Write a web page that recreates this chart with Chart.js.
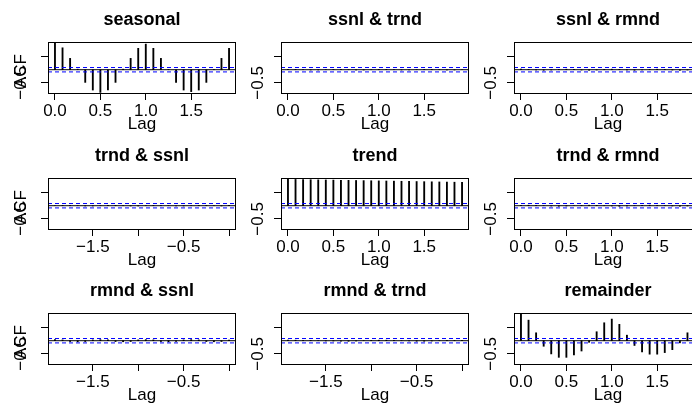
<!DOCTYPE html>
<html>
<head>
<meta charset="utf-8">
<script src="https://cdn.jsdelivr.net/npm/chart.js@4.4.1/dist/chart.umd.min.js"></script>
<style>
    html, body { margin: 0; padding: 0; background: #fff; overflow: hidden; }
    #wrap { position: relative; width: 692px; height: 407px; overflow: hidden; background: #fff; }
    #wrap canvas { position: absolute; }
</style>
</head>
<body>
<div id="wrap"></div>
<script>
/* lags (years) */
const lagsPos = [0, 0.0833, 0.1667, 0.25, 0.3333, 0.4167, 0.5, 0.5833, 0.6667, 0.75, 0.8333, 0.9167,
                 1, 1.0833, 1.1667, 1.25, 1.3333, 1.4167, 1.5, 1.5833, 1.6667, 1.75, 1.8333, 1.9167];
const lagsNeg = [-1.9167, -1.8333, -1.75, -1.6667, -1.5833, -1.5, -1.4167, -1.3333, -1.25, -1.1667, -1.0833, -1,
                 -0.9167, -0.8333, -0.75, -0.6667, -0.5833, -0.5, -0.4167, -0.3333, -0.25, -0.1667, -0.0833, 0];

/* acf / ccf values */
const seasonalAcf  = [1.00, 0.83, 0.43, 0.02, -0.48, -0.77, -0.86, -0.77, -0.48, 0.02, 0.43, 0.81,
                      0.97, 0.81, 0.43, 0.01, -0.48, -0.77, -0.83, -0.77, -0.48, 0.01, 0.43, 0.81];
const ssnlTrnd     = [0.01, 0.01, 0.00, -0.01, -0.01, 0.00, 0.01, 0.01, 0.00, -0.01, -0.01, 0.00,
                      0.01, 0.01, 0.00, -0.01, -0.01, 0.00, 0.01, 0.01, 0.00, -0.01, -0.01, 0.00];
const ssnlRmnd     = [0.02, 0.01, -0.01, -0.02, -0.01, 0.01, 0.02, 0.01, -0.01, -0.02, -0.01, 0.01,
                      0.02, 0.01, -0.01, -0.02, -0.01, 0.01, 0.02, 0.01, -0.01, -0.02, -0.01, 0.01];
const trndSsnl     = [0.00, 0.01, 0.01, 0.00, -0.01, -0.01, 0.00, 0.01, 0.01, 0.00, -0.01, -0.01,
                      0.00, 0.01, 0.01, 0.00, -0.01, -0.01, 0.00, 0.01, 0.01, 0.00, -0.01, 0.01];
const trendAcf     = [1.00, 0.995, 0.99, 0.985, 0.98, 0.976, 0.971, 0.966, 0.961, 0.956, 0.951, 0.946,
                      0.941, 0.936, 0.931, 0.926, 0.921, 0.916, 0.911, 0.906, 0.901, 0.896, 0.891, 0.886];
const trndRmnd     = [0.01, 0.02, 0.01, 0.00, -0.01, -0.02, -0.01, 0.00, 0.01, 0.02, 0.01, 0.00,
                      -0.01, -0.02, -0.01, 0.00, 0.01, 0.02, 0.01, 0.00, -0.01, -0.02, -0.01, 0.00];
const rmndSsnl     = [0.04, 0.03, -0.03, -0.04, -0.03, 0.03, 0.04, 0.03, -0.03, -0.04, -0.03, 0.03,
                      0.04, 0.03, -0.03, -0.04, -0.03, 0.03, 0.04, 0.03, -0.03, -0.04, -0.03, 0.02];
const rmndTrnd     = [0.02, 0.02, 0.01, 0.01, 0.00, -0.01, -0.01, -0.02, -0.02, -0.01, 0.00, 0.01,
                      0.02, 0.02, 0.01, 0.00, -0.01, -0.02, -0.02, -0.01, 0.00, 0.01, 0.01, 0.01];
const remainderAcf = [1.00, 0.78, 0.30, -0.21, -0.50, -0.63, -0.63, -0.54, -0.39, -0.06, 0.34, 0.68,
                      0.82, 0.62, 0.21, -0.18, -0.42, -0.51, -0.51, -0.45, -0.34, -0.08, 0.30, 0.55];

const panelTitles = ['seasonal', 'ssnl & trnd', 'ssnl & rmnd',
                     'trnd & ssnl', 'trend', 'trnd & rmnd',
                     'rmnd & ssnl', 'rmnd & trnd', 'remainder'];

/* axes */
const ciLimit = 0.083;
const yLimits = [-0.92, 1.05];
const yTicks = [-0.5, 0, 0.5, 1];
const yTickLabels = ['\u22120.5', '', '', ''];
const xLimitsPos = [-0.0767, 1.9933];
const xLimitsNeg = [-1.9933, 0.0767];
const xTicksPos = [0, 0.5, 1, 1.5];
const xTickLabelsPos = ['0.0', '0.5', '1.0', '1.5'];
const xTicksNeg = [-1.5, -1, -0.5, 0];
const xTickLabelsNeg = ['\u22121.5', '', '\u22120.5', ''];

const panels = [
    { data: seasonalAcf,  neg: false }, { data: ssnlTrnd, neg: false }, { data: ssnlRmnd,     neg: false },
    { data: trndSsnl,     neg: true  }, { data: trendAcf, neg: false }, { data: trndRmnd,     neg: false },
    { data: rmndSsnl,     neg: true  }, { data: rmndTrnd, neg: true  }, { data: remainderAcf, neg: false }
];

Chart.defaults.font.family = "'Liberation Sans', Arial, Helvetica, sans-serif";
Chart.defaults.color = '#000';

/* R style: box, title, rotated y labels, ylab on first column */
const rStyle = {
    id: 'rStyle',
    afterDraw(chart, args, opts) {
        const { ctx, chartArea: a } = chart;
        const ys = chart.scales.y;
        ctx.save();
        ctx.strokeStyle = '#000';
        ctx.lineWidth = 1;
        ctx.strokeRect(a.left + 0.5, a.top + 0.5, a.right - a.left - 1, a.bottom - a.top - 1);

        ctx.fillStyle = '#000';
        ctx.font = "bold 18px 'Liberation Sans', Arial, sans-serif";
        ctx.textAlign = 'center';
        ctx.textBaseline = 'alphabetic';
        ctx.fillText(opts.title, (a.left + a.right) / 2, a.top - 17);

        ctx.font = "17px 'Liberation Sans', Arial, sans-serif";
        const bx = a.left - opts.labelGap;
        yTicks.forEach((v, i) => {
            if (!yTickLabels[i]) return;
            ctx.save();
            ctx.translate(bx, ys.getPixelForValue(v));
            ctx.rotate(-Math.PI / 2);
            ctx.fillText(yTickLabels[i], 0, 0);
            ctx.restore();
        });
        if (opts.ylab) {
            // ylab sits in the same margin line as the tick labels and overlaps them
            ctx.save();
            ctx.translate(bx, (a.top + a.bottom) / 2 + 3);
            ctx.rotate(-Math.PI / 2);
            ctx.fillText(opts.ylab, 0, 0);
            ctx.restore();
        }
        ctx.restore();
    }
};

const wrap = document.getElementById('wrap');
const colLeft = [0, 233, 466];
const rowTop = [0, 136, 271];

panels.forEach((p, idx) => {
    const col = idx % 3, row = Math.floor(idx / 3);
    const cv = document.createElement('canvas');
    cv.width = 284; cv.height = 138;
    cv.style.left = colLeft[col] + 'px';
    cv.style.top = rowTop[row] + 'px';
    wrap.appendChild(cv);

    const lags = p.neg ? lagsNeg : lagsPos;
    const xLim = p.neg ? xLimitsNeg : xLimitsPos;
    const xTicks = p.neg ? xTicksNeg : xTicksPos;
    const xLabels = p.neg ? xTickLabelsNeg : xTickLabelsPos;

    new Chart(cv, {
        type: 'bar',
        data: {
            datasets: [
                {
                    type: 'bar', order: 3,
                    data: lags.map((l, i) => ({ x: l, y: p.data[i] })),
                    backgroundColor: '#000', borderWidth: 0, barThickness: 1.2
                },
                {
                    type: 'line', order: 2,
                    data: [{ x: xLim[0], y: 0 }, { x: xLim[1], y: 0 }],
                    borderColor: '#000', borderWidth: 1, pointRadius: 0
                },
                {
                    type: 'line', order: 1,
                    data: [{ x: xLim[0], y: ciLimit }, { x: xLim[1], y: ciLimit }],
                    borderColor: '#0000ff', borderWidth: 1, borderDash: [4, 3], pointRadius: 0
                },
                {
                    type: 'line', order: 1,
                    data: [{ x: xLim[0], y: -ciLimit }, { x: xLim[1], y: -ciLimit }],
                    borderColor: '#0000ff', borderWidth: 1, borderDash: [4, 3], pointRadius: 0
                }
            ]
        },
        options: {
            responsive: false,
            animation: false,
            devicePixelRatio: 1,
            layout: { padding: { left: 0, right: 48, top: 42, bottom: 0 } },
            plugins: {
                legend: { display: false },
                tooltip: { enabled: false },
                title: { display: false },
                rStyle: { title: panelTitles[idx], labelGap: col === 0 ? 22 : 18, ylab: col === 0 ? 'ACF' : '' }
            },
            scales: {
                x: {
                    type: 'linear', min: xLim[0], max: xLim[1], offset: false,
                    afterBuildTicks: s => { s.ticks = xTicks.map(v => ({ value: v })); },
                    afterFit: s => { s.height = 44; },
                    grid: { offset: false, drawOnChartArea: false, drawTicks: true, tickLength: 6, color: '#000', lineWidth: 1 },
                    border: { display: false },
                    ticks: {
                        autoSkip: false, maxRotation: 0, minRotation: 0, padding: 1,
                        font: { size: 17 }, color: '#000',
                        callback: (v, i) => xLabels[i]
                    },
                    title: { display: true, text: 'Lag', font: { size: 17 }, color: '#000', padding: { top: 0, bottom: 3 } }
                },
                y: {
                    type: 'linear', min: yLimits[0], max: yLimits[1],
                    afterBuildTicks: s => { s.ticks = yTicks.map(v => ({ value: v })); },
                    afterFit: s => { s.width = 48; },
                    grid: { drawOnChartArea: false, drawTicks: true, tickLength: 7, color: '#000', lineWidth: 1 },
                    border: { display: false },
                    ticks: { callback: () => '' }
                }
            }
        },
        plugins: [rStyle]
    });
});
</script>
</body>
</html>
